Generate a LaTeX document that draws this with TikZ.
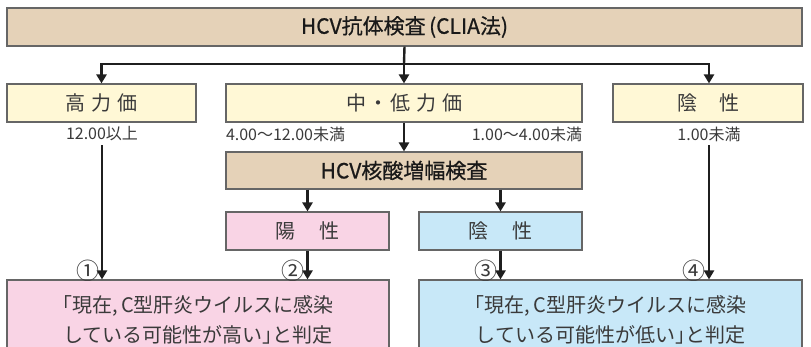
\documentclass[tikz,border=0pt]{standalone}
\usepackage{fontspec}
\setmainfont{Noto Sans CJK JP}
\newfontfamily\medfont{Noto Sans CJK JP}[FakeBold=0.7]
\usetikzlibrary{arrows.meta}
\definecolor{tan}{HTML}{E5D2B8}
\definecolor{ylw}{HTML}{FFF8D6}
\definecolor{pnk}{HTML}{F9D4E5}
\definecolor{blu}{HTML}{C8E8F8}
\definecolor{edge}{HTML}{666666}
\definecolor{txt}{HTML}{3A3A3A}
\newcommand{\myLQ}{\makebox[0.5em][r]{「}}
\newcommand{\myRQ}{\makebox[0.5em][l]{」}}
\tikzset{
  box/.style={draw=edge, line width=1.1pt, inner sep=0pt, text=txt},
  ttl/.style={box, fill=tan, font=\fontsize{21}{24}\medfont, text=black!90},
  lvl/.style={box, fill=ylw, minimum height=38pt, font=\fontsize{20}{24}\selectfont},
  res/.style={box, minimum height=80pt, align=center, font=\fontsize{20}{30}\selectfont},
  lab/.style={inner sep=0pt, outer sep=4pt, text=txt, font=\fontsize{16}{18}\selectfont},
  num/.style={inner sep=0pt, text=txt, font=\fontsize{23}{24}\selectfont},
  arr/.style={line width=2.4pt, draw=black!88, -{Triangle[length=9pt,width=10pt]}},
  ln/.style={line width=2.4pt, draw=black!88}
}
\begin{document}
\begin{tikzpicture}[x=1pt,y=-1pt]
\useasboundingbox (0,0) rectangle (811,347);
\clip (0,0) rectangle (811,347);
\node[ttl, minimum width=795pt, minimum height=38pt] (top) at (404.5,27) {HCV抗体検査\,(CLIA法)};
\node[lvl, minimum width=189pt] (hi) at (101.5,103) {高\hspace{6pt}力\hspace{6pt}価};
\node[lvl, minimum width=356pt] (mid) at (404,103) {中\hspace{2pt}・\hspace{2pt}低\hspace{6pt}力\hspace{6pt}価};
\node[lvl, minimum width=190pt] (neg) at (708,103) {陰\hspace{22pt}性};
\node[lab] (l1) at (102,134) {12.00以上};
\node[lab, anchor=west, outer sep=0pt] (l2) at (226,134) {4.00～12.00未満};
\node[lab, anchor=east, outer sep=0pt] (l3) at (582,134) {1.00～4.00未満};
\node[lab] (l4) at (709,134) {1.00未満};
\node[ttl, minimum width=356pt, minimum height=37pt] (nat) at (404,170.5) {HCV核酸増幅検査};
\node[lvl, fill=pnk, minimum width=163pt] (pos2) at (307.5,231) {陽\hspace{24pt}性};
\node[lvl, fill=blu, minimum width=163pt] (neg2) at (500.5,231) {陰\hspace{24pt}性};
\node[res, fill=pnk, minimum width=382pt] (r1) at (198,320) {\myLQ 現在,\,C型肝炎ウイルスに感染\\している可能性が高い\myRQ と判定};
\node[res, fill=blu, minimum width=383pt] (r2) at (610.5,320) {\myLQ 現在,\,C型肝炎ウイルスに感染\\している可能性が低い\myRQ と判定};
\coordinate (j) at (404,64);
\draw[ln] (top.south) -- (j);
\draw[arr] (j) -| (hi.north);
\draw[arr] (j) -| (l4.south |- neg.north);
\draw[arr] (j) -- (mid.north);
\draw[arr] (mid.south) -- (nat.north);
\draw[arr] (nat.south -| pos2) -- (pos2.north);
\draw[arr] (nat.south -| neg2) -- (neg2.north);
\draw[arr] (l1.south) -- (l1.south |- r1.north);
\draw[arr] (pos2.south) -- (pos2.south |- r1.north);
\draw[arr] (neg2.south) -- (neg2.south |- r2.north);
\draw[arr] (l4.south) -- (l4.south |- r2.north);
\node[num] (n1) at (88,271) {①};
\node[num] (n2) at (293,271) {②};
\node[num] (n3) at (486,271) {③};
\node[num] (n4) at (694,271) {④};
\end{tikzpicture}
\end{document}
